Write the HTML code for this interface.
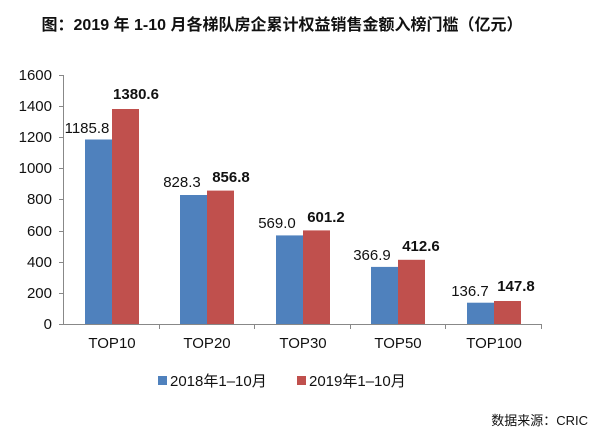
<!DOCTYPE html>
<html><head><meta charset="utf-8"><style>
body{margin:0;background:#fff;}
text{font-family:"Liberation Sans","Noto Sans CJK SC",sans-serif;}
</style></head><body>
<svg width="606" height="436" xmlns="http://www.w3.org/2000/svg">
<text x="282" y="30" text-anchor="middle" font-size="16" font-weight="bold" fill="#111">图：2019 年 1-10 月各梯队房企累计权益销售金额入榜门槛（亿元）</text>
<g stroke="#888" stroke-width="1">
<line x1="63.5" y1="75" x2="63.5" y2="324"/>
<line x1="59" y1="324.5" x2="541" y2="324.5"/>
<line x1="59" y1="75.5" x2="63" y2="75.5"/><line x1="59" y1="106.5" x2="63" y2="106.5"/>
<line x1="59" y1="137.5" x2="63" y2="137.5"/><line x1="59" y1="168.5" x2="63" y2="168.5"/>
<line x1="59" y1="199.5" x2="63" y2="199.5"/><line x1="59" y1="231.5" x2="63" y2="231.5"/>
<line x1="59" y1="262.5" x2="63" y2="262.5"/><line x1="59" y1="293.5" x2="63" y2="293.5"/>
<line x1="159.5" y1="324" x2="159.5" y2="329"/><line x1="254.5" y1="324" x2="254.5" y2="329"/>
<line x1="350.5" y1="324" x2="350.5" y2="329"/><line x1="445.5" y1="324" x2="445.5" y2="329"/>
<line x1="541.5" y1="324" x2="541.5" y2="329"/>
</g>
<g font-size="15" fill="#111" text-anchor="end">
<text x="52" y="80">1600</text><text x="52" y="111">1400</text><text x="52" y="142">1200</text>
<text x="52" y="173">1000</text><text x="52" y="204">800</text><text x="52" y="236">600</text>
<text x="52" y="267">400</text><text x="52" y="298">200</text><text x="52" y="329">0</text>
</g>
<g>
<rect x="85" y="139.5" width="27" height="184.5" fill="#4f81bd"/>
<rect x="112" y="109" width="27" height="215" fill="#c0504d"/>
<rect x="180" y="195" width="27" height="129" fill="#4f81bd"/>
<rect x="207" y="190.6" width="27" height="133.4" fill="#c0504d"/>
<rect x="276" y="235.4" width="27" height="88.6" fill="#4f81bd"/>
<rect x="303" y="230.4" width="27" height="93.6" fill="#c0504d"/>
<rect x="371" y="266.9" width="27" height="57.1" fill="#4f81bd"/>
<rect x="398" y="259.8" width="27" height="64.2" fill="#c0504d"/>
<rect x="467" y="302.7" width="27" height="21.3" fill="#4f81bd"/>
<rect x="494" y="301" width="27" height="23" fill="#c0504d"/>
</g>
<g font-size="15" fill="#111" text-anchor="middle">
<text x="87" y="133">1185.8</text>
<text x="182" y="187">828.3</text>
<text x="277" y="228">569.0</text>
<text x="372" y="260">366.9</text>
<text x="470" y="296">136.7</text>
</g>
<g font-size="15" fill="#111" text-anchor="middle" font-weight="bold">
<text x="136" y="99">1380.6</text>
<text x="231" y="182">856.8</text>
<text x="326" y="222">601.2</text>
<text x="421" y="251">412.6</text>
<text x="516" y="291">147.8</text>
</g>
<g font-size="15" fill="#111" text-anchor="middle">
<text x="112" y="348">TOP10</text><text x="207" y="348">TOP20</text><text x="303" y="348">TOP30</text>
<text x="398" y="348">TOP50</text><text x="494" y="348">TOP100</text>
</g>
<rect x="158" y="376" width="9" height="9" fill="#4f81bd"/>
<text x="170" y="386" font-size="15" fill="#111">2018年1–10月</text>
<rect x="297" y="376" width="9" height="9" fill="#c0504d"/>
<text x="309" y="386" font-size="15" fill="#111">2019年1–10月</text>
<text x="588" y="425" font-size="13" fill="#111" text-anchor="end">数据来源：CRIC</text>
</svg>
</body></html>
